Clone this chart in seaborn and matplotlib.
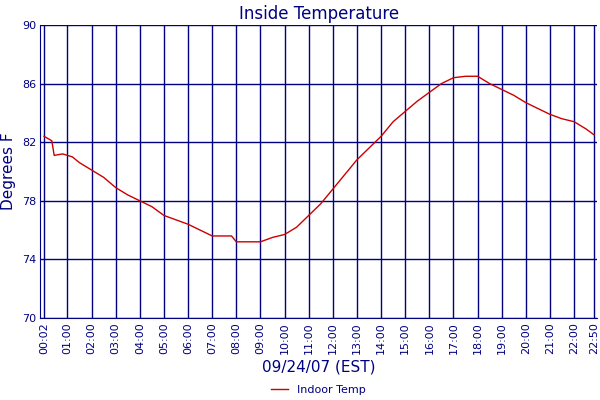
import matplotlib
matplotlib.use("Agg")
import matplotlib.pyplot as plt
import seaborn as sns
import pandas as pd

# hours since midnight, indoor temperature (F)
hours = [0.03, 0.35, 0.45, 0.8, 1.2, 1.5, 2.0, 2.5, 3.0, 3.5, 4.0, 4.5, 5.0, 5.5,
         6.0, 6.5, 7.0, 7.8, 8.0, 9.0, 9.5, 10.0, 10.5, 11.0, 11.5, 12.0, 12.5,
         13.0, 13.5, 14.0, 14.5, 15.0, 15.5, 16.0, 16.5, 17.0, 17.5, 18.0, 18.5,
         19.0, 19.5, 20.0, 20.5, 21.0, 21.5, 22.0, 22.5, 22.83]
temps = [82.4, 82.1, 81.1, 81.2, 81.0, 80.6, 80.1, 79.6, 78.9, 78.4, 78.0, 77.6,
         77.0, 76.7, 76.4, 76.0, 75.6, 75.6, 75.2, 75.2, 75.5, 75.7, 76.2, 77.0,
         77.8, 78.8, 79.8, 80.8, 81.6, 82.4, 83.4, 84.1, 84.8, 85.4, 86.0, 86.4,
         86.5, 86.5, 86.0, 85.6, 85.2, 84.7, 84.3, 83.9, 83.6, 83.4, 82.9, 82.5]
tick_pos = [0.033] + list(range(1, 23)) + [22.833]
tick_labels = ["00:02"] + [f"{h:02d}:00" for h in range(1, 23)] + ["22:50"]
y_ticks = [70, 74, 78, 82, 86, 90]

navy = "#000080"
df = pd.DataFrame({"hour": hours, "temp": temps})

fig = plt.figure(figsize=(6, 4), dpi=100)
ax = fig.add_axes([0.067, 0.205, 0.928, 0.7325])
sns.lineplot(data=df, x="hour", y="temp", color="#cc0000", linewidth=1,
             label="Indoor Temp", ax=ax)
ax.set_xlim(-0.13, 22.95)
ax.set_ylim(70, 90)
ax.set_xticks(tick_pos)
ax.set_xticklabels(tick_labels, rotation=90, fontsize=8, color=navy)
ax.set_yticks(y_ticks)
ax.set_yticklabels([str(v) for v in y_ticks], fontsize=8, color=navy)
ax.tick_params(length=0, pad=3)
ax.grid(True, color=navy, linewidth=1)
ax.set_axisbelow(True)
for s in ax.spines.values():
    s.set_color(navy)
ax.spines["top"].set_visible(False)
ax.spines["right"].set_visible(False)
ax.set_title("Inside Temperature", color=navy, fontsize=12, pad=4)
ax.set_xlabel("09/24/07 (EST)", color=navy, fontsize=11)
ax.set_ylabel("Degrees F", color=navy, fontsize=11)
leg = ax.legend(loc="center", bbox_to_anchor=(0.5, -0.245), frameon=False,
                fontsize=8, handlelength=1.5, borderpad=0)
for t in leg.get_texts():
    t.set_color(navy)
fig.savefig("out.png", dpi=100)
